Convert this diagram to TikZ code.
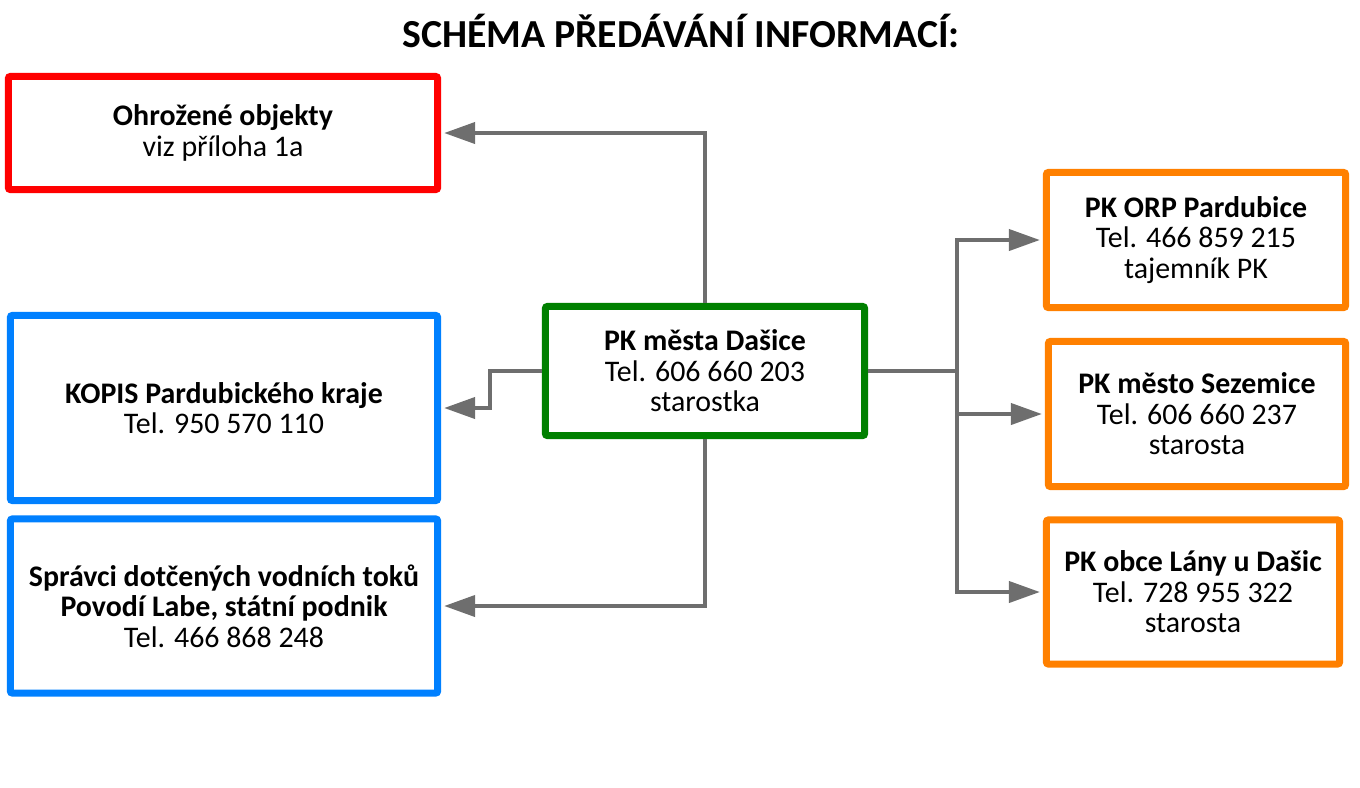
\documentclass[tikz,border=0pt]{standalone}
\usepackage{fontspec}
\setmainfont{Carlito}
\usetikzlibrary{arrows.meta}

\definecolor{boxred}{RGB}{255,0,0}
\definecolor{boxblue}{RGB}{0,128,255}
\definecolor{boxgreen}{RGB}{0,128,0}
\definecolor{boxorange}{RGB}{255,128,0}
\definecolor{linkgray}{RGB}{110,110,110}

\tikzset{
  infobox/.style={draw, line width=0.07cm, rounded corners=0.02cm, align=center,
    inner sep=0pt, font=\fontsize{8.5}{8.7}\selectfont},
  link/.style={draw=linkgray, line width=0.04cm},
  linkarrow/.style={link, -{Triangle[length=0.31cm,width=0.21cm]}, shorten >=0.03cm}
}

\begin{document}
\begin{tikzpicture}[x=0.01cm,y=-0.01cm]
			\useasboundingbox (0,0) rectangle (1360,787);
			\node[font=\fontsize{11.3}{13}\selectfont\bfseries] (title) at (681,31) {SCHÉMA PŘEDÁVÁNÍ INFORMACÍ:};

			% left column
			\node[infobox, draw=boxred, minimum width=4.29cm, minimum height=1.13cm] (obj) at (223,133)
				{\textbf{Ohrožené objekty}\\viz příloha 1a};
			\node[infobox, draw=boxblue, minimum width=4.27cm, minimum height=1.85cm] (kopis) at (224,408)
				{\textbf{KOPIS Pardubického kraje}\\Tel. 950 570 110};
			\node[infobox, draw=boxblue, minimum width=4.27cm, minimum height=1.74cm] (sprav) at (224,606)
				{\textbf{Správci dotčených vodních toků}\\\textbf{Povodí Labe, státní podnik}\\Tel. 466 868 248};

			% centre
			\node[infobox, draw=boxgreen, minimum width=3.19cm, minimum height=1.29cm] (dasice) at (705,371)
				{\textbf{PK města Dašice}\\Tel. 606 660 203\\starostka};

			% right column
			\node[infobox, draw=boxorange, minimum width=2.99cm, minimum height=1.35cm] (orp) at (1196,240)
				{\textbf{PK ORP Pardubice}\\Tel. 466 859 215\\tajemník PK};
			\node[infobox, draw=boxorange, minimum width=2.97cm, minimum height=1.45cm] (sez) at (1197,414)
				{\textbf{PK město Sezemice}\\Tel. 606 660 237\\starosta};
			\node[infobox, draw=boxorange, minimum width=2.93cm, minimum height=1.44cm] (lany) at (1193,592)
				{\textbf{PK obce Lány u Dašic}\\Tel. 728 955 322\\starosta};

			% connectors
			\draw[linkarrow] (dasice.north) |- (obj.east);
			\draw[linkarrow] (dasice.west) -- ++(-52,0) |- (kopis.east);
			\draw[linkarrow] (dasice.south) |- (sprav.east);

			\coordinate (split) at (957,371);
			\draw[link] (dasice.east) -- (split);
			\draw[linkarrow] (split) |- (orp.west);
			\draw[linkarrow] (split) |- (sez.west);
			\draw[linkarrow] (split) |- (lany.west);
		\end{tikzpicture}
\end{document}
